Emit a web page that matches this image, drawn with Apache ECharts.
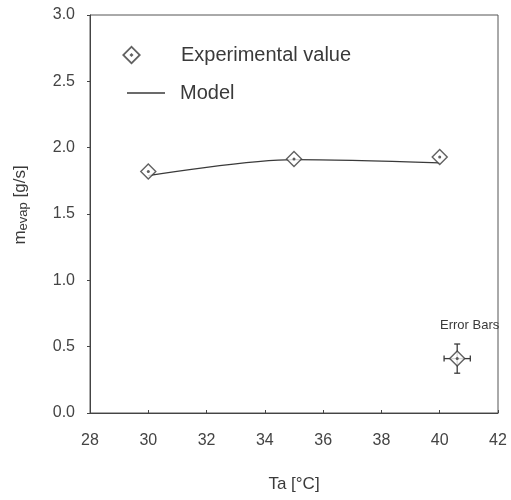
<!DOCTYPE html>
<html><head><meta charset="utf-8">
<script src="https://cdn.jsdelivr.net/npm/echarts@6/dist/echarts.min.js"></script>
<style>html,body{margin:0;padding:0;background:#fff}#c{width:511px;height:500px}</style>
</head><body><div id="c"></div>
<script>
const expX = [30, 35, 40];
const expY = [1.82, 1.915, 1.93];
const modelX = [30, 35, 40];
const modelY = [1.79, 1.91, 1.885];
const errBar = [[40.6, 0.41, 0.45, 0.11]];
const xTicks = [28, 30, 32, 34, 36, 38, 40, 42];
const yTicks = [0.0, 0.5, 1.0, 1.5, 2.0, 2.5, 3.0];

const ink = '#3a3a3a';
const font = 'Liberation Sans, Arial, sans-serif';
const diamondIcon = 'path://M0 -7L7 0L0 7L-7 0Z M0 -5.1L-5.1 0L0 5.1L5.1 0Z M0 -1.5L1.5 0L0 1.5L-1.5 0Z';
const chart = echarts.init(document.getElementById('c'));
chart.setOption({
  animation: false,
  backgroundColor: '#fff',
  grid: {left: 90, right: 13, top: 15, bottom: 87, show: true, borderColor: '#555', borderWidth: 1},
  legend: [
    {data: [{name: 'Experimental value', icon: diamondIcon}], orient: 'vertical', left: 117, top: 40, itemWidth: 19, itemHeight: 19,
     itemStyle: {color: ink, borderWidth: 0},
     textStyle: {fontFamily: font, fontSize: 20, color: ink, padding: [0,0,0,35]}},
    {data: [{name: 'Model', icon: 'rect'}], orient: 'vertical', left: 122, top: 78, itemWidth: 38, itemHeight: 1.5,
     itemStyle: {color: ink, borderWidth: 0},
     textStyle: {fontFamily: font, fontSize: 20, color: ink, padding: [0,0,0,10]}}
  ],
  xAxis: {
    type: 'value', min: xTicks[0], max: xTicks[xTicks.length-1], interval: 2,
    name: 'Ta [°C]', nameLocation: 'middle', nameGap: 63,
    nameTextStyle: {fontFamily: font, fontSize: 17, color: ink},
    axisLine: {lineStyle: {color: '#444'}},
    axisTick: {inside: true, length: 3, lineStyle: {color: '#444'}},
    axisLabel: {fontFamily: font, fontSize: 16, color: '#444', margin: 20},
    splitLine: {show: false}
  },
  yAxis: {
    type: 'value', min: yTicks[0], max: yTicks[yTicks.length-1], interval: 0.5,
    name: 'm{sub|evap} [g/s]', nameLocation: 'middle', nameGap: 60, nameRotate: 90,
    nameTextStyle: {fontFamily: font, fontSize: 17, color: ink, padding: [0,0,0,18],
      rich: {sub: {fontFamily: font, fontSize: 13, color: ink, verticalAlign: 'bottom', padding: [7,0,0,0]}}},
    axisLine: {show: true, lineStyle: {color: '#444'}},
    axisTick: {show: true, length: 3, lineStyle: {color: '#444'}},
    axisLabel: {fontFamily: font, fontSize: 16, color: '#444', margin: 15, formatter: v => v.toFixed(1)},
    splitLine: {show: false}
  },
  graphic: [{type: 'text', left: 440, top: 319, style: {text: 'Error Bars', font: '13px ' + font, fill: ink}}],
  series: [
    {name: 'Model', type: 'line', data: modelX.map((x,i)=>[x, modelY[i]]), smooth: 0.3,
     showSymbol: false, symbol: 'none', lineStyle: {color: ink, width: 1.3}, itemStyle: {color: ink}, z: 2},
    {name: 'errbar', type: 'custom', data: errBar, z: 3,
     renderItem: (params, api) => {
       const x = api.value(0), y = api.value(1), dx = api.value(2), dy = api.value(3);
       const l = api.coord([x-dx, y]), r = api.coord([x+dx, y]), t = api.coord([x, y+dy]), b = api.coord([x, y-dy]);
       const st = {stroke: ink, lineWidth: 1.3};
       const cap = 3;
       return {type: 'group', children: [
         {type: 'line', shape: {x1: l[0], y1: l[1], x2: r[0], y2: r[1]}, style: st},
         {type: 'line', shape: {x1: t[0], y1: t[1], x2: b[0], y2: b[1]}, style: st},
         {type: 'line', shape: {x1: l[0], y1: l[1]-cap, x2: l[0], y2: l[1]+cap}, style: st},
         {type: 'line', shape: {x1: r[0], y1: r[1]-cap, x2: r[0], y2: r[1]+cap}, style: st},
         {type: 'line', shape: {x1: t[0]-cap, y1: t[1], x2: t[0]+cap, y2: t[1]}, style: st},
         {type: 'line', shape: {x1: b[0]-cap, y1: b[1], x2: b[0]+cap, y2: b[1]}, style: st}
       ]};
     }},
    {name: 'Experimental value', type: 'scatter', data: expX.map((x,i)=>[x, expY[i]]).concat([[errBar[0][0], errBar[0][1]]]),
     symbol: 'diamond', symbolSize: 15, itemStyle: {color: '#fff', borderColor: ink, borderWidth: 1.4}, z: 4},
    {name: 'dots', type: 'scatter', data: expX.map((x,i)=>[x, expY[i]]).concat([[errBar[0][0], errBar[0][1]]]),
     symbol: 'circle', symbolSize: 3, itemStyle: {color: ink}, z: 5, silent: true}
  ]
});
</script></body></html>
